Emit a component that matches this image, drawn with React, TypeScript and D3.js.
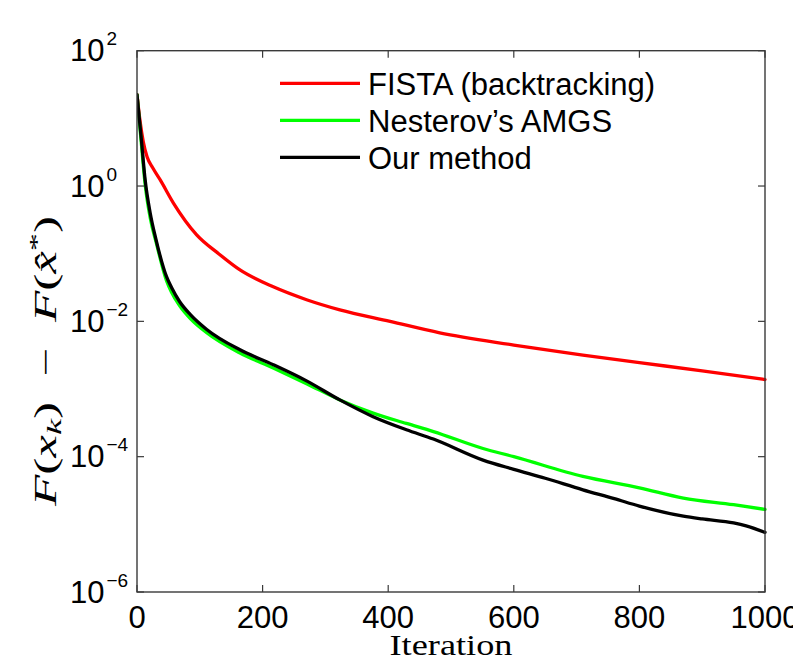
import React from "react";
import * as d3 from "d3";

// ---- data ----
const fistaIter = [0, 5, 10, 16, 25, 37, 58, 95, 130, 164, 217, 270, 323, 403, 482, 600, 710, 800, 900, 1000];
const fistaVal = [22.4, 8.9, 4.5, 2.7, 1.86, 1.23, 0.56, 0.19, 0.1, 0.0575, 0.0324, 0.0209, 0.0148, 0.01, 0.00676, 0.00447, 0.00316, 0.00245, 0.00186, 0.00138];

const amgsIter = [0, 7, 13, 21, 31, 47, 55, 68, 85, 111, 164, 217, 270, 323, 376, 429, 472, 551, 600, 710, 800, 870, 950, 1000];
const amgsVal = [22.4, 4.2, 1.05, 0.34, 0.141, 0.04, 0.027, 0.017, 0.011, 0.0068, 0.0034, 0.00204, 0.0012, 6.9e-4, 4.4e-4, 3.1e-4, 2.35e-4, 1.32e-4, 1.0e-4, 5.1e-5, 3.47e-5, 2.45e-5, 1.95e-5, 1.66e-5];

const oursIter = [0, 7, 13, 21, 30, 47, 55, 68, 85, 111, 164, 217, 270, 323, 376, 429, 472, 551, 600, 650, 710, 760, 800, 870, 900, 950, 970, 1000];
const oursVal = [22.4, 4.8, 1.23, 0.4, 0.166, 0.0457, 0.0316, 0.0195, 0.0126, 0.0076, 0.0038, 0.00229, 0.00132, 6.9e-4, 3.9e-4, 2.5e-4, 1.82e-4, 8.9e-5, 6.5e-5, 4.8e-5, 3.24e-5, 2.4e-5, 1.86e-5, 1.32e-5, 1.2e-5, 1.05e-5, 9.5e-6, 7.6e-6];

const seriesNames = ["FISTA (backtracking)", "Nesterov\u2019s AMGS", "Our method"];
const seriesColors = ["#ff0000", "#00ff00", "#000000"];
const seriesIters = [fistaIter, amgsIter, oursIter];
const seriesVals = [fistaVal, amgsVal, oursVal];

const xTicks = [0, 200, 400, 600, 800, 1000];
const yTickExps = [2, 0, -2, -4, -6];

// ---- layout ----
const W = 793;
const H = 660;
const LEFT = 137;
const RIGHT = 765;
const TOP = 50.7;
const BOTTOM = 592;
const SANS = "'Liberation Sans', Arial, Helvetica, sans-serif";
const SERIF = "'Liberation Serif', 'Times New Roman', serif";
const AXIS = "#3a3a3a";

export default function App() {
  const x = d3.scaleLinear().domain([0, 1000]).range([LEFT, RIGHT]);
  const y = d3.scaleLog().domain([1e-6, 1e2]).range([BOTTOM, TOP]);

  const line = d3
    .line<[number, number]>()
    .x((d) => x(d[0]))
    .y((d) => y(d[1]))
    .curve(d3.curveMonotoneX);

  const tickLen = 7;

  return (
    <svg
      width={W}
      height={H}
      viewBox={`0 0 ${W} ${H}`}
      style={{ position: "absolute", left: 0, top: 0, background: "#fff" }}
    >
      <rect x={0} y={0} width={W} height={H} fill="#fff" />
      <defs>
        <clipPath id="plotclip">
          <rect x={LEFT} y={TOP - 2} width={RIGHT - LEFT + 2} height={BOTTOM - TOP + 4} />
        </clipPath>
      </defs>

      {/* series */}
      <g clipPath="url(#plotclip)">
        {seriesIters.map((its, i) => (
          <path
            key={i}
            d={line(its.map((it, j) => [it, seriesVals[i][j]] as [number, number])) || ""}
            fill="none"
            stroke={seriesColors[i]}
            strokeWidth={3.3}
            strokeLinejoin="round"
            strokeLinecap="round"
          />
        ))}
      </g>

      {/* axes box */}
      <rect x={LEFT} y={TOP} width={RIGHT - LEFT} height={BOTTOM - TOP} fill="none" stroke={AXIS} strokeWidth={1.4} />

      {/* x ticks */}
      {xTicks.map((t) => (
        <g key={"x" + t}>
          <line x1={x(t)} x2={x(t)} y1={BOTTOM} y2={BOTTOM - tickLen} stroke={AXIS} strokeWidth={1.2} />
          <line x1={x(t)} x2={x(t)} y1={TOP} y2={TOP + tickLen} stroke={AXIS} strokeWidth={1.2} />
          <text x={x(t)} y={628} textAnchor="middle" fontFamily={SANS} fontSize={31} fill="#000">
            {t}
          </text>
        </g>
      ))}

      {/* y ticks */}
      {yTickExps.map((e) => {
        const v = Math.pow(10, e);
        const yy = y(v);
        return (
          <g key={"y" + e}>
            <line x1={LEFT} x2={LEFT + tickLen} y1={yy} y2={yy} stroke={AXIS} strokeWidth={1.2} />
            <line x1={RIGHT} x2={RIGHT - tickLen} y1={yy} y2={yy} stroke={AXIS} strokeWidth={1.2} />
            <text x={70} y={yy + 10.5} fontFamily={SANS} fontSize={31} fill="#000">
              10
              <tspan fontSize={19} dy={-16} dx={2}>
                {e < 0 ? "\u2212" + Math.abs(e) : String(e)}
              </tspan>
            </text>
          </g>
        );
      })}

      {/* x label */}
      <text
        x={(LEFT + RIGHT) / 2}
        y={655}
        textAnchor="middle"
        fontFamily={SERIF}
        fontSize={29}
        textLength={123}
        lengthAdjust="spacingAndGlyphs"
        fill="#000"
      >
        Iteration
      </text>

      {/* y label */}
      <text
        transform="translate(56,361) rotate(-90)"
        textAnchor="middle"
        fontFamily={SERIF}
        fontSize={31}
        textLength={290}
        lengthAdjust="spacingAndGlyphs"
        fill="#000"
      >
        <tspan fontStyle="italic">F</tspan>
        <tspan>(</tspan>
        <tspan fontStyle="italic">x</tspan>
        <tspan fontStyle="italic" fontSize={22} dy={5}>k</tspan>
        <tspan dy={-5}>{")\u2002\u2212\u2002"}</tspan>
        <tspan fontStyle="italic">F</tspan>
        <tspan>(</tspan>
        <tspan fontStyle="italic">{"x\u0302"}</tspan>
        <tspan fontSize={22} dy={-12}>*</tspan>
        <tspan dy={12}>)</tspan>
      </text>

      {/* legend */}
      {seriesNames.map((name, i) => {
        const ly = 83.3 + i * 37;
        return (
          <g key={"leg" + i}>
            <line x1={280} x2={360} y1={ly} y2={ly} stroke={seriesColors[i]} strokeWidth={3.3} />
            <text x={368} y={ly + 11.5} fontFamily={SANS} fontSize={31} fill="#000">
              {name}
            </text>
          </g>
        );
      })}
    </svg>
  );
}
